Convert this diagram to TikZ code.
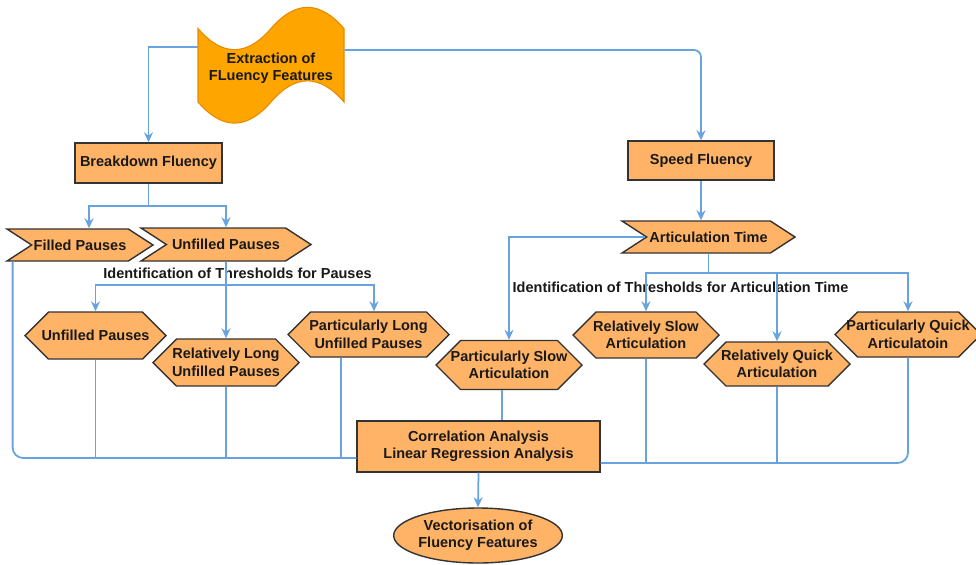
\documentclass[tikz,border=0pt]{standalone}
\usepackage{fontspec}
\setmainfont{Liberation Sans}
\usepackage{xcolor}
\usetikzlibrary{arrows.meta, calc, shapes.symbols, shapes.geometric}

\definecolor{boxfill}{HTML}{FFB366}
\definecolor{tapefill}{HTML}{FFA500}
\definecolor{tapeedge}{HTML}{E88A00}
\definecolor{edgegray}{HTML}{333333}
\definecolor{wireblue}{HTML}{66A3E0}

\begin{document}
\begin{tikzpicture}[>={Stealth[length=2mm, width=1.8mm]}, every node/.style={font=\fontsize{8.25}{9.9}\selectfont\bfseries, align=center, text=black!90},
  procbox/.style={draw=edgegray, line width=0.8pt, fill=boxfill, inner sep=1pt},
  flagbox/.style={signal, signal from=west, signal to=east, signal pointer angle=66, draw=edgegray, line width=0.8pt, fill=boxfill, inner sep=1pt},
  hexbox/.style={signal, signal to=west and east, signal pointer angle=90, draw=edgegray, line width=0.8pt, fill=boxfill, inner ysep=1pt, inner xsep=-0.3cm},
  wire/.style={draw=wireblue, line width=1pt}]
  \useasboundingbox (0,0) rectangle (19.52,-11.28);

  % wavy tape at the top
  \draw[fill=tapefill, draw=tapeedge, line width=0.6pt] (3.96,-0.57) .. controls (4.447,-1.134) and (4.933,-1.134) .. (5.42,-0.57) .. controls (5.907,-0.006) and (6.393,-0.006) .. (6.88,-0.57) -- (6.88,-2.04) .. controls (6.393,-1.476) and (5.907,-1.476) .. (5.42,-2.04) .. controls (4.933,-2.604) and (4.447,-2.604) .. (3.96,-2.04) -- cycle;
  \node[minimum width=2.92cm, minimum height=1.47cm, inner sep=0pt] (extract) at (5.42,-1.36) {Extraction of\\FLuency Features};

  \node[procbox, minimum width=2.94cm, minimum height=0.8cm] (breakdown) at (2.97,-3.26) {Breakdown Fluency};
  \node[procbox, minimum width=2.92cm, minimum height=0.78cm] (speed) at (14.02,-3.21) {Speed Fluency};

  \node[flagbox, minimum width=2.92cm, minimum height=0.64cm] (filled) at (1.6,-4.9) {Filled Pauses};
  \node[flagbox, minimum width=3.4cm, minimum height=0.66cm] (unfilled) at (4.52,-4.89) {Unfilled Pauses};
  \node[flagbox, minimum width=3.46cm, minimum height=0.64cm] (arttime) at (14.17,-4.74) {Articulation Time};

  \node (pauselbl) at (4.75,-5.46) {Identification of Thresholds for Pauses};
  \node (artlbl) at (13.61,-5.74) {Identification of Thresholds for Articulation Time};

  \node[hexbox, minimum width=2.82cm, minimum height=0.94cm] (hexUnfilled) at (1.91,-6.71) {Unfilled Pauses};
  \node[hexbox, minimum width=2.92cm, minimum height=0.94cm] (hexRelLong) at (4.52,-7.25) {Relatively Long\\Unfilled Pauses};
  \node[hexbox, minimum width=3.22cm, minimum height=0.9cm] (hexPartLong) at (7.37,-6.69) {Particularly Long\\Unfilled Pauses};
  \node[hexbox, minimum width=2.92cm, minimum height=0.98cm] (hexPartSlow) at (10.18,-7.3) {Particularly Slow\\Articulation};
  \node[hexbox, minimum width=2.92cm, minimum height=0.92cm] (hexRelSlow) at (12.92,-6.7) {Relatively Slow\\Articulation};
  \node[hexbox, minimum width=2.92cm, minimum height=0.88cm] (hexRelQuick) at (15.54,-7.28) {Relatively Quick\\Articulation};
  \node[hexbox, minimum width=2.92cm, minimum height=0.9cm] (hexPartQuick) at (18.16,-6.69) {Particularly Quick\\Articulatoin};

  \node[procbox, minimum width=4.86cm, minimum height=1.02cm] (corr) at (9.57,-8.93) {Correlation Analysis\\Linear Regression Analysis};
  \node[procbox, ellipse, minimum width=2.92cm, minimum height=1.1cm, inner sep=0pt] (vector) at (9.56,-10.71) {Vectorisation of\\Fluency Features};

  % top split
  \draw[wire, ->] ([yshift=0.42cm]extract.west) -| (breakdown.north);
  \draw[wire, ->, rounded corners=4pt] ([yshift=0.36cm]extract.east) -| (speed.north);

  % pauses branch
  \coordinate (bdsplit) at ($(breakdown.south)+(0,-0.44)$);
  \draw[wire] (breakdown.south) -- (bdsplit);
  \draw[wire, ->] (bdsplit) -| ([xshift=0.18cm]filled.north);
  \draw[wire, ->] (bdsplit) -| (unfilled.north);
  \coordinate (upsplit) at ($(unfilled.south)+(0,-0.46)$);
  \draw[wire] (unfilled.south) -- (upsplit);
  \draw[wire, ->] (upsplit) -| (hexUnfilled.north);
  \draw[wire, ->] (upsplit) -- (hexRelLong.north);
  \draw[wire, ->] (upsplit) -| ([xshift=0.11cm]hexPartLong.north);

  % articulation branch
  \draw[wire, ->] (speed.south) -- (speed.south |- arttime.north);
  \draw[wire, ->] (arttime.west) -| (hexPartSlow.north);
  \coordinate (atsplit) at ($(arttime.south)+(0,-0.38)$);
  \draw[wire] (arttime.south) -- (atsplit);
  \draw[wire, ->] (atsplit) -| (hexRelSlow.north);
  \draw[wire, ->] (atsplit) -| (hexRelQuick.north);
  \draw[wire, ->] (atsplit) -| (hexPartQuick.north);

  % collecting lines
  \coordinate (busL) at ([yshift=-0.23cm]corr.west);
  \coordinate (busR) at ([yshift=-0.33cm]corr.east);
  \draw[wire, rounded corners=6pt] ($(filled.south west)+(0.16,0)$) |- (busL);
  \draw[wire] (hexUnfilled.south) -- (hexUnfilled.south |- busL);
  \draw[wire] (hexRelLong.south) -- (hexRelLong.south |- busL);
  \draw[wire] ([xshift=-0.55cm]hexPartLong.south) -- ([xshift=-0.55cm]hexPartLong.south |- busL);
  \draw[wire] ([xshift=-0.14cm]hexPartSlow.south) -- ([xshift=-0.14cm]hexPartSlow.south |- corr.north);
  \draw[wire, rounded corners=6pt] (busR) -| (hexPartQuick.south);
  \draw[wire] (hexRelSlow.south) -- (hexRelSlow.south |- busR);
  \draw[wire] (hexRelQuick.south) -- (hexRelQuick.south |- busR);
  \draw[wire, ->] (corr.south) -- (vector.north);
\end{tikzpicture}
\end{document}
